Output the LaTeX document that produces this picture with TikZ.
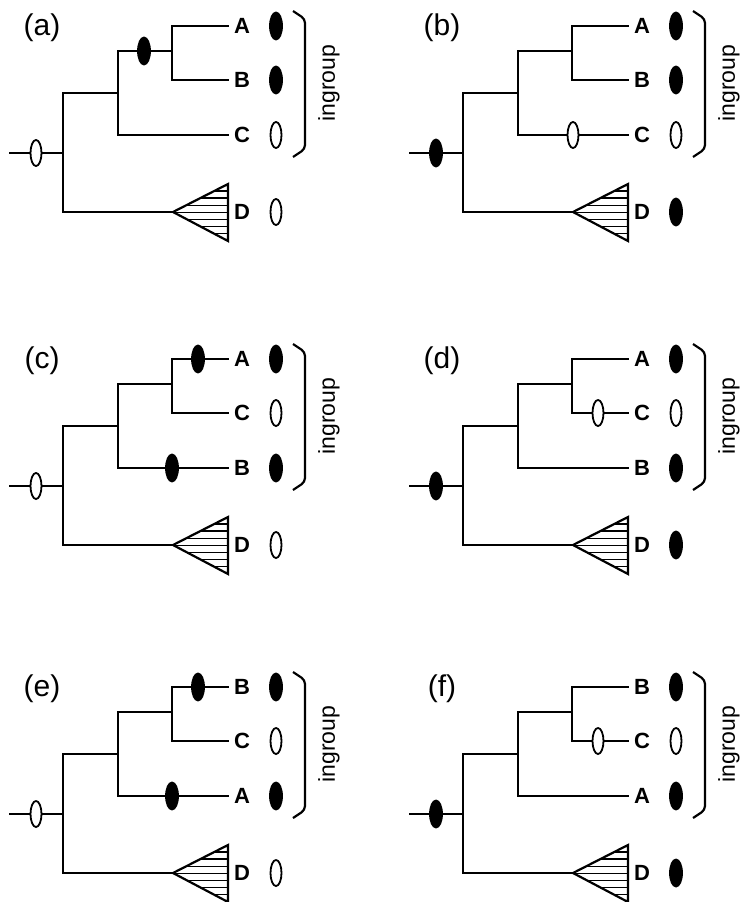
\documentclass[tikz,border=0pt]{standalone}
\usepackage{fontspec}
\setmainfont{Liberation Sans}
\usepackage{tikz}
\usetikzlibrary{shapes.geometric}
\tikzset{
  branch/.style={line width=2.2pt},
  tip/.style={font=\bfseries\fontsize{22}{22}\selectfont, inner sep=4.5pt, text height=15.8pt, text depth=0pt},
  fullmark/.style={ellipse, draw, fill=black, line width=1.8pt, minimum width=12pt, minimum height=27pt, inner sep=0pt},
  emptymark/.style={ellipse, draw, fill=white, line width=1.8pt, minimum width=11pt, minimum height=26pt, inner sep=0pt},
  panellabel/.style={font=\fontsize{30}{30}\selectfont, inner sep=0pt},
  ingrp/.style={font=\fontsize{23}{23}\selectfont, inner sep=0pt}
}
\newcommand{\hatchtri}[1]{
  \begin{scope}
    \clip (#1) -- ++(55,-28) -- ++(0,57) -- cycle;
    \foreach \k in {1,...,7}
      \draw[line width=1.5pt] (#1) ++(0,-28+\k*7.1) -- ++(60,0);
  \end{scope}
  \draw[branch, line join=miter] (#1) -- ++(55,-28) -- ++(0,57) -- cycle;
}
% #1 panel, #2-#4 taxa top to bottom, #5 root and D state, #6 #7 states of 2nd and 3rd taxon
\newcommand{\cladetree}[7]{
  \coordinate (#1-in) at (9,153);
  \coordinate (#1-root) at (63,153);
  \coordinate (#1-n1) at (118,93);
  \coordinate (#1-n2) at (172,51);
  \coordinate (#1-Dt) at (173,212);
  \node[panellabel] (#1-lab) at (42,28) {(#1)};
  \node[tip] (#1-L1) at (242,26) {#2};
  \node[tip] (#1-L2) at (242,80) {#3};
  \node[tip] (#1-L3) at (242,135) {#4};
  \node[tip] (#1-D) at (242,212) {D};
  \draw[branch] (#1-in) -- (#1-root);
  \draw[branch] (#1-root) |- (#1-n1);
  \draw[branch] (#1-root) |- (#1-Dt);
  \draw[branch] (#1-n1) |- (#1-n2);
  \draw[branch] (#1-n1) |- (#1-L3.west);
  \draw[branch] (#1-n2) |- (#1-L1.west);
  \draw[branch] (#1-n2) |- (#1-L2.west);
  \hatchtri{#1-Dt}
  \node[#5] (#1-rootmark) at (36,153) {};
  \node[fullmark] (#1-t1) at (276,26) {};
  \node[#6] (#1-t2) at (276,80) {};
  \node[#7] (#1-t3) at (276,135) {};
  \node[#5] (#1-tD) at (276,212) {};
  \coordinate (#1-bt) at (293,11);
  \coordinate (#1-bb) at (293,157);
  \draw[branch, rounded corners=4pt] (#1-bt) -- (305,19) -- (305,149) -- (#1-bb);
  \node[ingrp, rotate=90] (#1-ing) at (329,83) {ingroup};
}

\begin{document}
\begin{tikzpicture}[x=1pt, y=-1pt]
  \useasboundingbox (0,0) rectangle (743,902);

  \begin{scope}
    \cladetree{a}{A}{B}{C}{emptymark}{fullmark}{emptymark}
    \node[fullmark] (a-m1) at (144,51) {};
  \end{scope}
  \begin{scope}[shift={(400,0)}]
    \cladetree{b}{A}{B}{C}{fullmark}{fullmark}{emptymark}
    \node[emptymark] (b-m1) at (173,135) {};
  \end{scope}

  \begin{scope}[shift={(0,333)}]
    \cladetree{c}{A}{C}{B}{emptymark}{emptymark}{fullmark}
    \node[fullmark] (c-m1) at (198,26) {};
    \node[fullmark] (c-m2) at (172,135) {};
  \end{scope}
  \begin{scope}[shift={(400,333)}]
    \cladetree{d}{A}{C}{B}{fullmark}{emptymark}{fullmark}
    \node[emptymark] (d-m1) at (198,80) {};
  \end{scope}

  \begin{scope}[shift={(0,661)}]
    \cladetree{e}{B}{C}{A}{emptymark}{emptymark}{fullmark}
    \node[fullmark] (e-m1) at (198,26) {};
    \node[fullmark] (e-m2) at (172,135) {};
  \end{scope}
  \begin{scope}[shift={(400,661)}]
    \cladetree{f}{B}{C}{A}{fullmark}{emptymark}{fullmark}
    \node[emptymark] (f-m1) at (198,80) {};
  \end{scope}
\end{tikzpicture}
\end{document}
